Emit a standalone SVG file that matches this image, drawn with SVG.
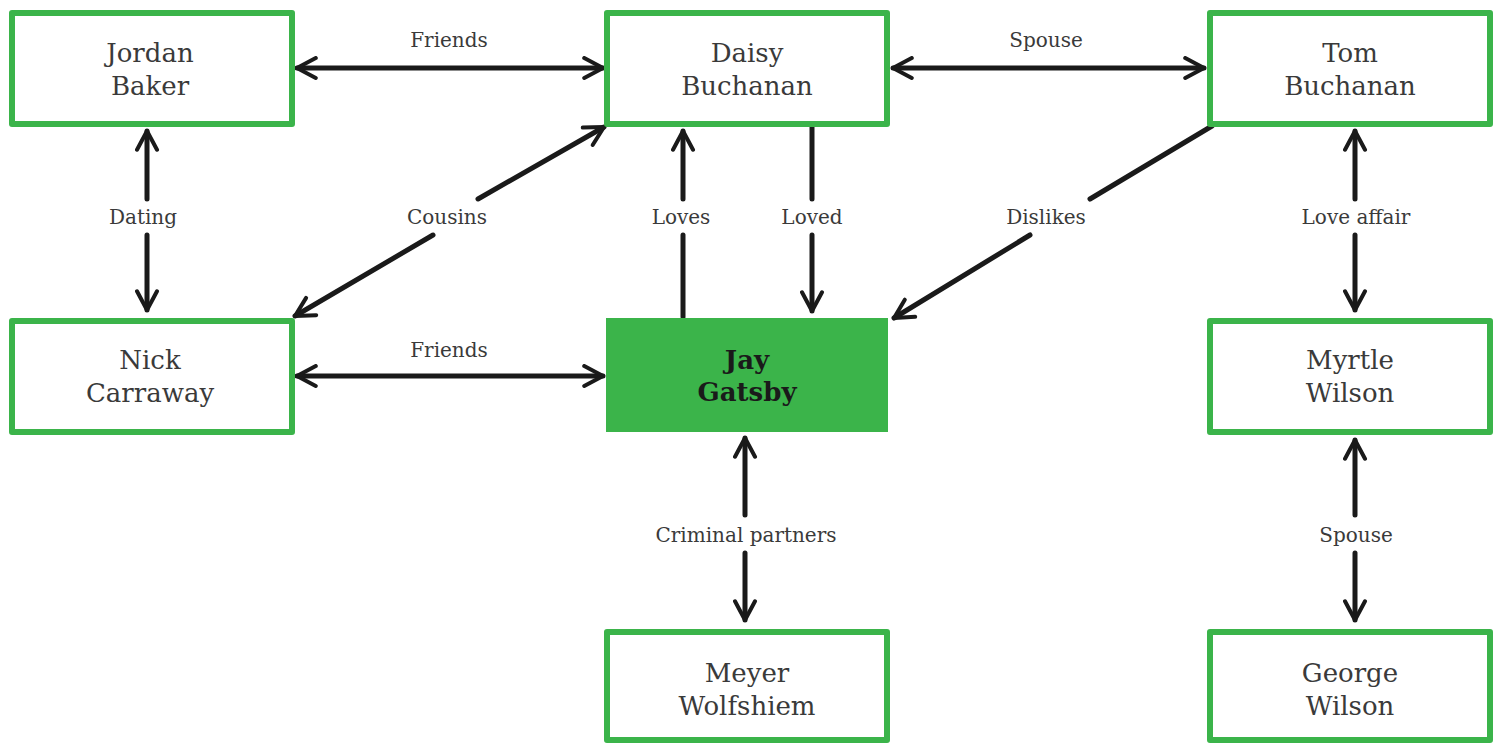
<svg xmlns="http://www.w3.org/2000/svg" width="1496" height="743" viewBox="0 0 1496 743">
<style>
.box{fill:#fff;stroke:#3bb44a;stroke-width:6;stroke-linejoin:round}
.solid{fill:#3bb44a;stroke:none}
.name{font-family:"DejaVu Serif","Liberation Serif",serif;font-size:26px;fill:#3a3a3a;text-anchor:middle}
.bold{font-weight:bold;fill:#1a1a1a;font-size:26px}
.lbl{font-family:"DejaVu Serif","Liberation Serif",serif;font-size:20px;fill:#3a3a3a;text-anchor:middle}
.c{stroke:#1a1a1a;stroke-width:5;fill:none;stroke-linecap:round}
</style>
<defs>
<marker id="ah" viewBox="0 0 10 10" refX="8.5" refY="5" markerWidth="5" markerHeight="5" markerUnits="strokeWidth" orient="auto-start-reverse">
<path d="M1,1 L8.5,5 L1,9" fill="none" stroke="#1a1a1a" stroke-width="1.6" stroke-linecap="round" stroke-linejoin="round"/>
</marker>
</defs>
<rect width="1496" height="743" fill="#fff"/>
<g id="connectors">
<line class="c" x1="297" y1="68" x2="603" y2="68" marker-start="url(#ah)" marker-end="url(#ah)"/>
<text class="lbl" x="449" y="47">Friends</text>
<line class="c" x1="893" y1="68" x2="1204" y2="68" marker-start="url(#ah)" marker-end="url(#ah)"/>
<text class="lbl" x="1046" y="47">Spouse</text>
<line class="c" x1="147" y1="131" x2="147" y2="199" marker-start="url(#ah)"/>
<line class="c" x1="147" y1="235" x2="147" y2="310" marker-end="url(#ah)"/>
<text class="lbl" x="143" y="224">Dating</text>
<line class="c" x1="604" y1="127" x2="478" y2="199" marker-start="url(#ah)"/>
<line class="c" x1="433" y1="235" x2="295" y2="316" marker-end="url(#ah)"/>
<text class="lbl" x="447" y="224">Cousins</text>
<line class="c" x1="683" y1="317" x2="683" y2="235"/>
<line class="c" x1="683" y1="199" x2="683" y2="131" marker-end="url(#ah)"/>
<text class="lbl" x="681" y="224">Loves</text>
<line class="c" x1="812" y1="127" x2="812" y2="199"/>
<line class="c" x1="812" y1="235" x2="812" y2="311" marker-end="url(#ah)"/>
<text class="lbl" x="812" y="224">Loved</text>
<line class="c" x1="1212" y1="126" x2="1090" y2="199"/>
<line class="c" x1="1030" y1="235" x2="894" y2="318" marker-end="url(#ah)"/>
<text class="lbl" x="1046" y="224">Dislikes</text>
<line class="c" x1="1355" y1="131" x2="1355" y2="199" marker-start="url(#ah)"/>
<line class="c" x1="1355" y1="235" x2="1355" y2="310" marker-end="url(#ah)"/>
<text class="lbl" x="1356" y="224">Love affair</text>
<line class="c" x1="297" y1="376" x2="603" y2="376" marker-start="url(#ah)" marker-end="url(#ah)"/>
<text class="lbl" x="449" y="357">Friends</text>
<line class="c" x1="745" y1="438" x2="745" y2="515" marker-start="url(#ah)"/>
<line class="c" x1="745" y1="553" x2="745" y2="620" marker-end="url(#ah)"/>
<text class="lbl" x="746" y="542">Criminal partners</text>
<line class="c" x1="1355" y1="440" x2="1355" y2="515" marker-start="url(#ah)"/>
<line class="c" x1="1355" y1="553" x2="1355" y2="620" marker-end="url(#ah)"/>
<text class="lbl" x="1356" y="542">Spouse</text>
</g>
<g id="jordan"><rect class="box" x="12" y="13" width="280" height="111"/><text class="name" x="150" y="62">Jordan</text><text class="name" x="150" y="95">Baker</text></g>
<g id="daisy"><rect class="box" x="607" y="13" width="280" height="111"/><text class="name" x="747" y="62">Daisy</text><text class="name" x="747" y="95">Buchanan</text></g>
<g id="tom"><rect class="box" x="1210" y="13" width="280" height="111"/><text class="name" x="1350" y="62">Tom</text><text class="name" x="1350" y="95">Buchanan</text></g>
<g id="nick"><rect class="box" x="12" y="321" width="280" height="111"/><text class="name" x="150" y="369">Nick</text><text class="name" x="150" y="402">Carraway</text></g>
<g id="gatsby"><rect class="solid" x="606" y="318" width="282" height="114"/><text class="name bold" x="747" y="369">Jay</text><text class="name bold" x="747" y="401">Gatsby</text></g>
<g id="myrtle"><rect class="box" x="1210" y="321" width="280" height="111"/><text class="name" x="1350" y="369">Myrtle</text><text class="name" x="1350" y="402">Wilson</text></g>
<g id="meyer"><rect class="box" x="607" y="632" width="280" height="108"/><text class="name" x="747" y="682">Meyer</text><text class="name" x="747" y="715">Wolfshiem</text></g>
<g id="george"><rect class="box" x="1210" y="632" width="280" height="108"/><text class="name" x="1350" y="682">George</text><text class="name" x="1350" y="715">Wilson</text></g>
</svg>
